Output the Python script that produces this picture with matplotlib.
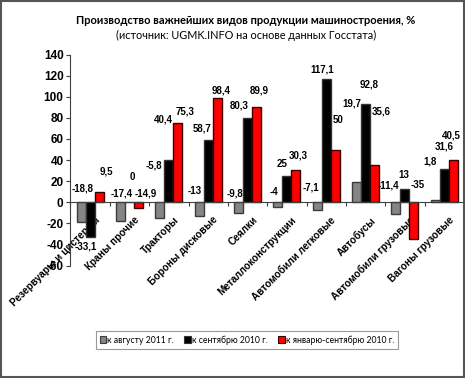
import matplotlib
matplotlib.use("Agg")
import matplotlib.pyplot as plt
from matplotlib.patches import Rectangle
import numpy as np

# ---------------- data ----------------
categories = ['Резервуары и цистерны', 'Краны прочие', 'Тракторы', 'Бороны дисковые',
              'Сеялки', 'Металлоконструкции', 'Автомобили легковые', 'Автобусы',
              'Автомобили грузовые', 'Вагоны грузовые']
aug2011 = [-18.8, -17.4, -14.9, -13.0, -9.8, -4.0, -7.1, 19.7, -11.4, 1.8]
sep2010 = [-33.1, 0.0, 40.4, 58.7, 80.3, 25.0, 117.1, 92.8, 13.0, 31.6]
jansep2010 = [9.5, -5.8, 75.3, 98.4, 89.9, 30.3, 50.0, 35.6, -35.0, 40.5]

# data label texts as printed on the chart
aug_labels = ['-18,8', '-17,4', '-5,8', '-13', '-9,8', '-4', '-7,1', '19,7', '-11,4', '1,8']
sep_labels = ['-33,1', '0', '40,4', '58,7', '80,3', '25', '117,1', '92,8', '13', '31,6']
jan_labels = ['9,5', '-14,9', '75,3', '98,4', '89,9', '30,3', '50', '35,6', '-35', '40,5']

series_names = ['к августу 2011 г.', 'к сентябрю 2010 г.', 'к январю-сентябрю 2010 г.']
yticks = [-60, -40, -20, 0, 20, 40, 60, 80, 100, 120, 140]

# label layout (x offset from category centre, y position in data units)
aug_pos = [(-0.19, 13.3), (-0.21, 8.5), (-0.39, 34.7), (-0.34, 11), (-0.325, 7.9),
           (-0.32, 9.5), (-0.39, 13.8), (-0.34, 93.8), (-0.42, 16), (-0.36, 38.4)]
sep_pos = [(-0.11, -42), (0.07, 24.2), (-0.13, 78.6), (-0.145, 70), (-0.205, 92.1),
           (-0.11, 36), (-0.09, 126.2), (0.09, 111.7), (-0.02, 25.9), (0.0, 52.7)]
jan_pos = [(0.40, 29), (0.42, 8.5), (0.40, 86.5), (0.33, 106.3), (0.30, 106.3),
           (0.30, 44.8), (0.30, 77.9), (0.39, 85.8), (0.32, 16.4), (0.19, 63.7)]

# ---------------- figure ----------------
fig = plt.figure(figsize=(4.65, 3.78), dpi=100)
fig.patch.set_facecolor('white')
ax = fig.add_axes([0.1516, 0.2971, 0.846, 0.5587])

x = np.arange(len(categories))
w = 0.228
ax.bar(x - w, aug2011, w, color='#858585', edgecolor='#3c3c3c', linewidth=1.0, zorder=3)
ax.bar(x, sep2010, w, color='#000000', edgecolor='#333333', linewidth=1.0, zorder=3)
ax.bar(x + w, jansep2010, w, color='#ff0000', edgecolor='#3a0000', linewidth=1.0, zorder=3)

lab_font = dict(fontsize=7, fontweight='bold', family=['Liberation Sans', 'DejaVu Sans'],
                ha='center', va='center', zorder=5)
for i in range(len(categories)):
    for labs, pos in ((aug_labels, aug_pos), (sep_labels, sep_pos), (jan_labels, jan_pos)):
        ax.text(x[i] + pos[i][0], pos[i][1], labs[i], **lab_font)

ax.set_xlim(-0.5, len(categories) - 0.5)
ax.set_ylim(-60, 140)
ax.set_yticks(yticks)
ax.set_yticklabels([str(v) for v in yticks], fontsize=8.5, fontweight='bold',
                   family=['Liberation Sans', 'DejaVu Sans'])
ax.tick_params(axis='y', direction='out', length=3, width=0.8, color='#404040', pad=2)

for s in ('top', 'right'):
    ax.spines[s].set_visible(False)
ax.spines['left'].set_color('#404040')
ax.spines['left'].set_linewidth(0.8)
ax.spines['bottom'].set_position(('data', 0))
ax.spines['bottom'].set_color('#404040')
ax.spines['bottom'].set_linewidth(0.8)
ax.spines['bottom'].set_zorder(4)

ax.set_xticks(x + 0.12)
ax.set_xticklabels(categories, rotation=45, ha='right', va='top', rotation_mode='anchor',
                   fontsize=7.2, fontweight='bold', family=['Liberation Sans', 'DejaVu Sans'])
ax.tick_params(axis='x', which='major', length=0, pad=9)
ax.set_xticks(np.arange(-0.5, len(categories) - 0.4, 1.0), minor=True)
ax.tick_params(axis='x', which='minor', direction='out', length=3, width=0.8, color='#404040')

# titles
fig.text(0.528, 1 - 20.7 / 378, 'Производство важнейших видов продукции машиностроения, %',
         ha='center', va='center', fontsize=8.0, fontweight='bold', family=['Lato', 'DejaVu Sans'])
fig.text(0.53, 1 - 35.7 / 378, '(источник: UGMK.INFO на основе данных Госстата)',
         ha='center', va='center', fontsize=7.8, family=['Lato', 'DejaVu Sans'])

# legend
handles = [Rectangle((0, 0), 1, 1, facecolor=c, edgecolor=e, linewidth=0.8)
           for c, e in (('#858585', '#3c3c3c'), ('#000000', '#333333'), ('#ff0000', '#3a0000'))]
leg = fig.legend(handles, series_names, loc='center', bbox_to_anchor=(247 / 465, 1 - 340 / 378),
                 ncol=3, frameon=True, fancybox=False, edgecolor='#808080',
                 prop={'family': ['Lato', 'DejaVu Sans'], 'size': 6.2},
                 handlelength=0.75, handleheight=0.75, handletextpad=0.15, columnspacing=1.2,
                 borderpad=0.45, borderaxespad=0)
leg.get_frame().set_linewidth(0.8)

# outer border
fig.add_artist(Rectangle((0.002, 0.003), 0.995, 0.994, transform=fig.transFigure,
                         fill=False, edgecolor='#555555', linewidth=1.5))

fig.savefig('out.png', dpi=100)
